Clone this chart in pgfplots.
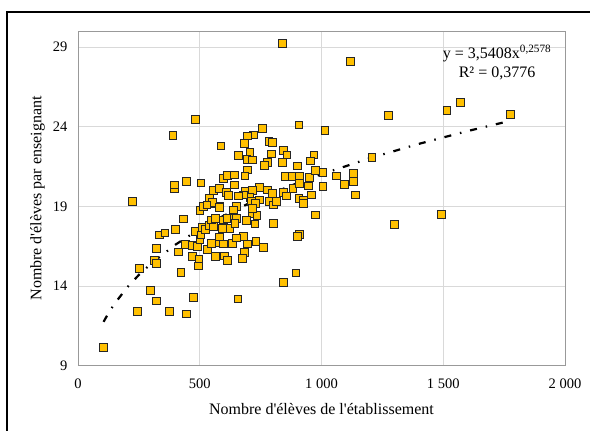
\documentclass[border=0pt]{standalone}
\usepackage{fontspec}
\setmainfont{Liberation Serif}[Ligatures=TeXOff]
\usepackage{pgfplots}
\usepackage{pgfplotstable}
\pgfplotsset{compat=1.18}
\definecolor{gold}{HTML}{FFC000}
\pgfplotstableread{
x y
841 29.2
1120 28.1
1570 25.5
1515 25.0
1276 24.7
1777 24.77
483 24.46
390 23.45
908 24.1
1014 23.74
587 22.78
1207 22.05
225 19.3
1492 18.47
1300 17.88
105 10.13
243 12.39
377 12.39
444 12.24
322 13.06
298 13.72
474 13.27
657 13.18
843 14.24
895 14.82
423 14.83
252 15.1
313 15.6
321 15.42
322 16.35
335 17.2
357 17.33
399 17.53
432 18.2
413 16.13
442 16.6
468 16.53
490 16.5
470 15.84
497 15.7
496 15.26
501 16.93
483 17.43
505 17.2
510 17.68
523 17.56
539 17.82
558 17.72
548 18.14
564 18.25
597 18.14
615 18.25
641 18.25
594 17.62
624 17.62
580 16.73
597 16.64
580 17.08
532 16.3
547 16.68
564 15.84
601 15.88
613 15.6
636 16.68
501 18.75
517 18.98
547 19.19
583 18.98
396 20.1
397 20.34
446 20.54
505 20.46
598 20.76
615 20.92
643 20.96
642 20.34
557 20.0
580 20.13
610 19.88
619 19.67
539 19.5
551 19.25
530 19.08
580 18.94
652 18.98
659 22.2
757 23.89
720 23.47
695 23.41
683 22.95
784 23.05
798 23.0
706 22.39
794 22.28
843 22.49
858 22.22
694 21.95
716 21.9
777 21.76
767 21.55
841 21.76
901 21.53
969 22.22
955 21.84
695 21.28
686 20.9
851 20.88
879 20.88
909 20.86
950 20.82
975 21.23
1006 21.13
1060 20.9
1006 20.23
947 20.27
883 20.13
909 20.44
843 19.88
857 19.65
908 19.5
926 19.4
958 19.71
745 20.19
777 20.02
800 19.82
689 19.92
716 19.97
747 19.4
784 19.29
802 19.08
706 19.56
713 19.29
730 19.19
679 19.71
658 19.65
975 18.45
909 17.22
901 17.09
804 17.93
761 16.43
731 16.78
695 16.63
679 17.09
652 17.01
685 16.09
675 15.74
716 18.56
727 17.89
693 18.1
652 18.25
638 18.77
816 19.29
925 19.19
1094 20.38
1131 21.05
1131 20.57
1139 19.71
735 18.42
717 18.85
645 17.92
}\pts
\begin{document}
\begin{tikzpicture}[x=1pt,y=1pt]
\useasboundingbox (0,0) rectangle (590,431);
\draw[line width=1.6pt] (7,0) -- (7,419) -- (592,419);
\begin{axis}[
  at={(78pt,65.3pt)}, anchor=south west,
  width=487pt, height=334.7pt, scale only axis,
  xmin=0, xmax=2000, ymin=9, ymax=30,
  xtick={0,500,1000,1500,2000}, ytick={9,14,19,24,29},
  grid=major, major grid style={draw=black!15, line width=0.8pt},
  axis line style={draw=black!40, line width=0.8pt},
  major tick length=0pt,
  tick label style={font=\fontsize{14.5}{17}\selectfont},
  /pgf/number format/assume math mode=true,
  /pgf/number format/1000 sep={\ },
  xticklabel style={yshift=-10pt},
  yticklabel style={xshift=-7pt},
  xlabel={Nombre d'élèves de l'établissement},
  ylabel={Nombre d'élèves par enseignant},
  label style={font=\fontsize{16}{19}\selectfont},
  xlabel style={at={(axis description cs:0.5,-0.13)}, anchor=center},
  ylabel style={at={(axis description cs:-0.083,0.5)}, anchor=center},
]
\addplot[only marks, mark=square*, mark size=3.9pt,
  mark options={fill=gold, draw=black!85, line width=1pt}] table[x=x,y=y] {\pts};
\addplot[black, line width=2.2pt, no marks,
  dash pattern=on 7pt off 9pt on 1.5pt off 9pt] coordinates {
  (105,11.753) (125,12.295) (150,12.884) (200,13.877) (250,14.698)
  (300,15.407) (400,16.593) (500,17.575) (600,18.421) (700,19.168)
  (800,19.840) (900,20.451) (1000,21.015) (1200,22.026) (1400,22.919)
  (1600,23.722) (1777,24.372)};
\node[align=center, font=\fontsize{16}{19}\selectfont] at (axis cs:1721,28.03)
  {y = 3,5408x\textsuperscript{0,2578}\\R² = 0,3776};
\end{axis}
\end{tikzpicture}
\end{document}
